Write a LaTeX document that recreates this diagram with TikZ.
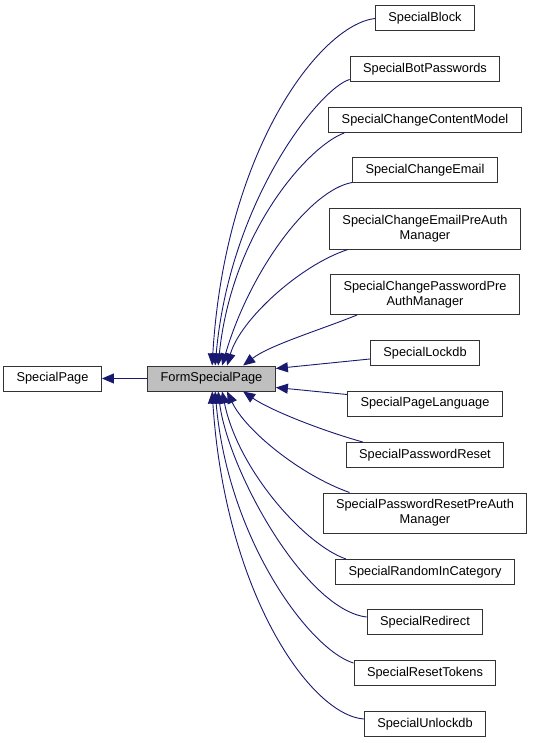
\documentclass[tikz,border=0pt]{standalone}
\usepackage{fontspec}
\setmainfont{Liberation Sans}
\usetikzlibrary{arrows.meta}
\definecolor{edgeblue}{HTML}{191970}
\definecolor{fspgray}{HTML}{BFBFBF}

\begin{document}
\begin{tikzpicture}[x=1pt,y=-1pt,
  cls/.style={draw=black!80,line width=1pt,fill=white,inner xsep=13pt,inner ysep=2pt,
    minimum height=25pt,align=center,font=\fontsize{12.8}{15}\selectfont},
  twoline/.style={cls,minimum height=40pt},
  inh/.style={draw=edgeblue,line width=0.9pt,-{Triangle[length=12pt,width=10pt]}}]
 \useasboundingbox (0,0) rectangle (533,743);
 % base classes
 \node[cls] (sp) at (52.5,378.5) {SpecialPage};
 \node[cls,fill=fspgray] (fsp) at (211.5,378.5) {FormSpecialPage};
 % derived classes
 \node[cls] (blk) at (425,18.5) {SpecialBlock};
 \node[cls] (bot) at (425,69.5) {SpecialBotPasswords};
 \node[cls] (ccm) at (425,120) {SpecialChangeContentModel};
 \node[cls] (ce) at (425,170.5) {SpecialChangeEmail};
 \node[twoline] (cepa) at (425,229) {SpecialChangeEmailPreAuth\\Manager};
 \node[twoline] (cppa) at (425,294.5) {SpecialChangePasswordPre\\AuthManager};
 \node[cls] (lock) at (425,353) {SpecialLockdb};
 \node[cls] (plang) at (425,403.5) {SpecialPageLanguage};
 \node[cls] (pr) at (425,455) {SpecialPasswordReset};
 \node[twoline] (prpa) at (425,513) {SpecialPasswordResetPreAuth\\Manager};
 \node[cls] (ric) at (425,572) {SpecialRandomInCategory};
 \node[cls] (red) at (425,622) {SpecialRedirect};
 \node[cls] (rt) at (425,673) {SpecialResetTokens};
 \node[cls] (unl) at (425,724) {SpecialUnlockdb};
 % inheritance
 \draw[inh] (fsp) -- (sp);
 \draw[inh] (blk.west) .. controls (320,25) and (225,150) .. ([xshift=65pt]fsp.north west);
 \draw[inh] ([yshift=3pt]bot.south west) .. controls (320,88) and (230,200) .. ([xshift=68pt]fsp.north west);
 \draw[inh] ([xshift=16pt]ccm.south west) .. controls (310,145) and (232,230) .. ([xshift=71pt]fsp.north west);
 \draw[inh] ([yshift=1pt]ce.south west) .. controls (310,190) and (250,270) .. ([xshift=75pt]fsp.north west);
 \draw[inh] ([xshift=19pt]cepa.south west) .. controls (300,265) and (240,320) .. ([xshift=80pt]fsp.north west);
 \draw[inh] ([xshift=27pt]cppa.south west) .. controls (320,330) and (270,345) .. ([xshift=96pt]fsp.north west);
 \draw[inh] ([yshift=-6pt]lock.west) -- ([yshift=-3pt]fsp.north east);
 \draw[inh] ([yshift=-4pt]plang.north west) -- ([yshift=4pt]fsp.south east);
 \draw[inh] ([xshift=17pt]pr.north west) .. controls (320,430) and (270,410) .. ([xshift=96pt]fsp.south west);
 \draw[inh] ([xshift=27pt]prpa.north west) .. controls (300,475) and (245,430) .. ([xshift=80pt]fsp.south west);
 \draw[inh] ([xshift=11pt]ric.north west) .. controls (305,545) and (238,470) .. ([xshift=75pt]fsp.south west);
 \draw[inh] ([yshift=5pt]red.west) .. controls (305,610) and (228,470) .. ([xshift=71pt]fsp.south west);
 \draw[inh] ([yshift=10pt]rt.west) .. controls (310,650) and (228,540) .. ([xshift=68pt]fsp.south west);
 \draw[inh] ([yshift=5pt]unl.west) .. controls (310,715) and (225,592) .. ([xshift=65pt]fsp.south west);
\end{tikzpicture}
\end{document}
